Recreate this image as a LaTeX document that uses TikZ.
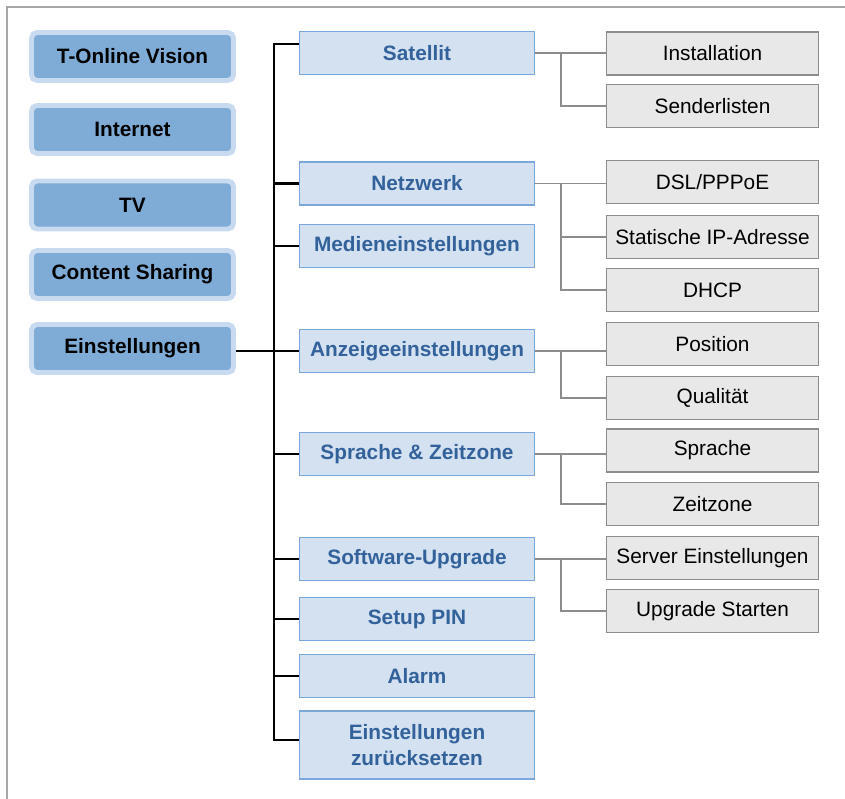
\documentclass[tikz,border=0pt]{standalone}
\usepackage{fontspec}
\setmainfont{Liberation Sans}
\definecolor{menufill}{HTML}{7FABD7}
\definecolor{menuedge}{HTML}{C7DAEF}
\definecolor{midfill}{HTML}{D3E1F1}
\definecolor{midedge}{HTML}{7BA7DA}
\definecolor{midtext}{HTML}{33629B}
\definecolor{subfill}{HTML}{E8E8E8}
\definecolor{subedge}{HTML}{8C8C8C}
\definecolor{framegray}{HTML}{A6A6A6}
\begin{document}
\begin{tikzpicture}[x=0.025cm,y=-0.025cm,
  menubox/.style={draw=menuedge,fill=menufill,line width=3.5pt,rounded corners=4pt,
    minimum width=5.05cm,minimum height=1.2cm,font=\fontsize{14.8}{17}\selectfont\bfseries},
  midbox/.style={draw=midedge,fill=midfill,line width=1pt,minimum width=5.875cm,
    minimum height=1.075cm,text=midtext,align=center,font=\fontsize{14.8}{18.4}\selectfont\bfseries},
  subbox/.style={draw=subedge,fill=subfill,line width=1.3pt,minimum width=5.3cm,
    minimum height=1.075cm,font=\fontsize{14.8}{17}\selectfont},
  trunk/.style={line width=1.6pt,black},
  subline/.style={line width=1.3pt,subedge}]
\useasboundingbox (0,0) rectangle (845,799);
\draw[framegray,line width=1.4pt] (845,7) -- (7,7) -- (7,799);
% main menu
\node[menubox] (vision)  at (132.5,56.5)  {T-Online Vision};
\node[menubox] (inet)    at (132.5,129.5) {Internet};
\node[menubox] (tv)      at (132.5,205)   {TV};
\node[menubox] (share)   at (132.5,274.5) {Content Sharing};
\node[menubox] (einst)   at (132.5,348.5) {Einstellungen};
% Einstellungen
\node[midbox] (sat)   at (417,53)    {Satellit};
\node[midbox] (net)   at (417,183.5) {Netzwerk};
\node[midbox] (med)   at (417,246)   {Medieneinstellungen};
\node[midbox] (anz)   at (417,351)   {Anzeigeeinstellungen};
\node[midbox] (spr)   at (417,454)   {Sprache \& Zeitzone};
\node[midbox] (soft)  at (417,559)   {Software-Upgrade};
\node[midbox] (pin)   at (417,619)   {Setup PIN};
\node[midbox] (alarm) at (417,676)   {Alarm};
\node[midbox,minimum height=1.7cm] (reset) at (417,745) {Einstellungen\\zurücksetzen};
% submenus
\node[subbox] (inst)   at (712.5,53.5) {Installation};
\node[subbox] (send)   at (712.5,106)  {Senderlisten};
\node[subbox] (dsl)    at (712.5,182)  {DSL/PPPoE};
\node[subbox] (ip)     at (712.5,237)  {Statische IP-Adresse};
\node[subbox] (dhcp)   at (712.5,290)  {DHCP};
\node[subbox] (pos)    at (712.5,344)  {Position};
\node[subbox] (qual)   at (712.5,398)  {Qualität};
\node[subbox] (lang)   at (712.5,450.5){Sprache};
\node[subbox] (zone)   at (712.5,504)  {Zeitzone};
\node[subbox] (server) at (712.5,558)  {Server Einstellungen};
\node[subbox] (upgr)   at (712.5,611)  {Upgrade Starten};
% black tree
\coordinate (ttop) at (274,44);
\coordinate (tbot) at (274,740);
\draw[trunk] (ttop -| sat.west) -- (ttop) -- (tbot) -- (tbot -| reset.west);
\foreach \n in {net,med,anz,spr,soft,pin,alarm}
  \draw[trunk] (\n.west) -- (\n.west -| ttop);
\draw[trunk] (anz.west) -- (anz.west -| einst.east);
% gray tree
\draw[subline] (sat.east) -- (sat.east -| inst.west);
\draw[subline] ([xshift=0.65cm]sat.east) |- (send.west);
\draw[subline] (net.east) -- (net.east -| dsl.west);
\draw[subline] ([xshift=0.65cm]net.east) |- (ip.west);
\draw[subline] ([xshift=0.65cm]net.east) |- (dhcp.west);
\draw[subline] (anz.east) -- (anz.east -| pos.west);
\draw[subline] ([xshift=0.65cm]anz.east) |- (qual.west);
\draw[subline] (spr.east) -- (spr.east -| lang.west);
\draw[subline] ([xshift=0.65cm]spr.east) |- (zone.west);
\draw[subline] (soft.east) -- (soft.east -| server.west);
\draw[subline] ([xshift=0.65cm]soft.east) |- (upgr.west);
\end{tikzpicture}
\end{document}
